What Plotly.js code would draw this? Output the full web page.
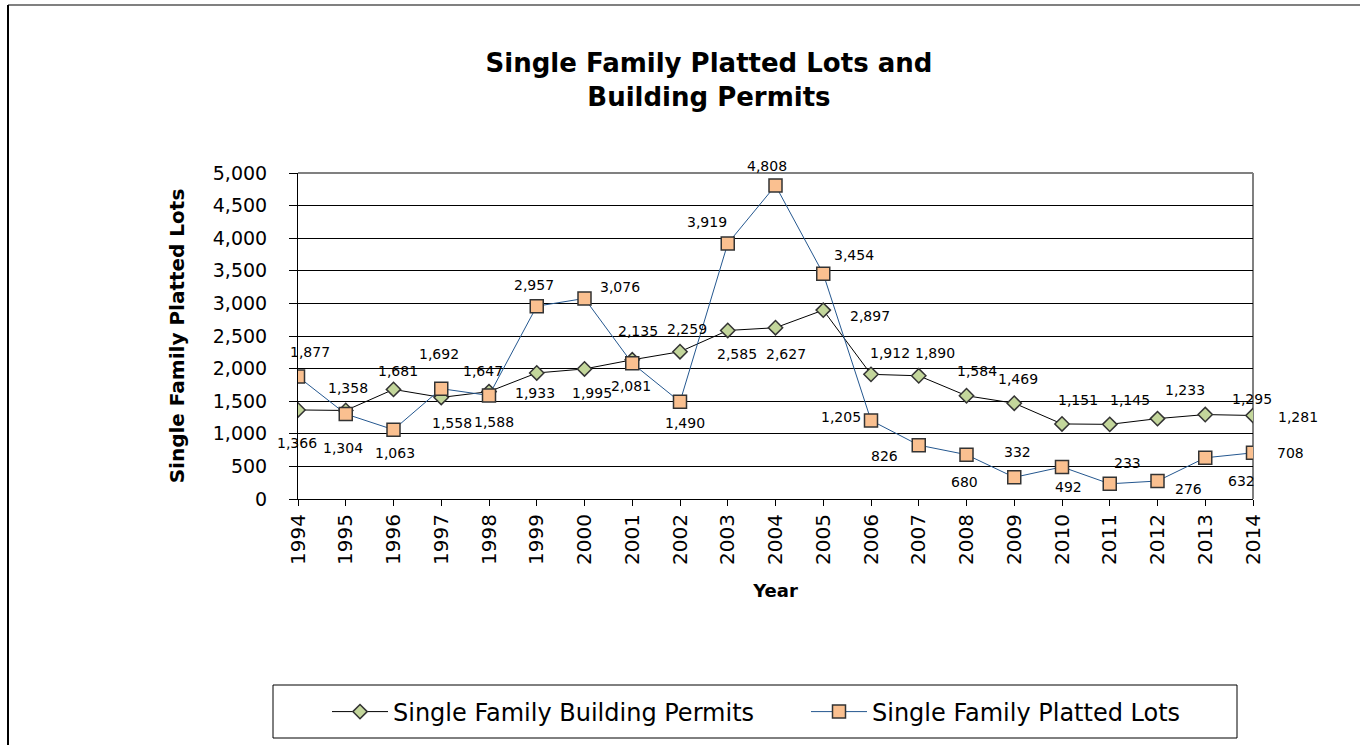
<!DOCTYPE html>
<html>
<head>
<meta charset="utf-8">
<script src="https://cdn.plot.ly/plotly-3.0.1.min.js"></script>
<style>html,body{margin:0;padding:0;background:#fff;}#chart{width:1360px;height:745px;}</style>
</head>
<body>
<div id="chart"></div>
<script>
// ---- data ----
var years = [1994,1995,1996,1997,1998,1999,2000,2001,2002,2003,2004,2005,2006,2007,2008,2009,2010,2011,2012,2013,2014];
var buildingPermits = [1366,1358,1681,1558,1647,1933,1995,2135,2259,2585,2627,2897,1912,1890,1584,1469,1151,1145,1233,1295,1281];
var plattedLots = [1877,1304,1063,1692,1588,2957,3076,2081,1490,3919,4808,3454,1205,826,680,332,492,233,276,632,708];
var seriesNames = ["Single Family Building Permits", "Single Family Platted Lots"];
var chartTitle = "Single Family Platted Lots and<br>Building Permits";
var xTitle = "Year";
var yTitle = "Single Family Platted Lots";

// ---- label placement (pixel offsets from each point) ----
var permitDx = [-1, 2, 4, 11, -6, -2, 7, 6, 7, 9, 10, 47, 19, 16, 10, 4, 16, 20, 27, 47, 45];
var permitDy = [-33, 22, 18, -26, 21, -20, -24, 29, 23, -24, -26, -6, 21, 23, 25, 24, 24, 24, 29, 16, -2];
var lotDx = [12, -3, 1, -2, 5, -3, 35, -1, 5, -21, -9, 31, -30, -34, -2, 3, 6, 18, 31, 36, 37];
var lotDy = [25, -34, -23, 35, -27, 21, 11, -23, -21, 21, 20, 19, 3, -11, -27, 25, -20, 21, -8, -23, 0];

var FONT = "DejaVu Sans, Arial, sans-serif";

function fmt(v){ return v.toLocaleString('en-US'); }

var traces = [
  {
    x: years, y: buildingPermits, name: seriesNames[0], type: 'scatter', mode: 'lines+markers',
    line: {color: '#000000', width: 1},
    marker: {symbol: 'diamond', size: 11, color: '#C3D69B', line: {color: '#333333', width: 1.5}},
    hoverinfo: 'x+y'
  },
  {
    x: years, y: plattedLots, name: seriesNames[1], type: 'scatter', mode: 'lines+markers',
    line: {color: '#24578F', width: 1},
    marker: {symbol: 'square', size: 13, color: '#FAC090', line: {color: '#333333', width: 1.5}},
    hoverinfo: 'x+y'
  }
];

var annotations = [];
for (var i = 0; i < years.length; i++) {
  annotations.push({x: years[i], y: buildingPermits[i], xref: 'x', yref: 'y', text: fmt(buildingPermits[i]),
    showarrow: false, xshift: permitDx[i], yshift: permitDy[i], font: {family: FONT, size: 14, color: '#000'}});
  annotations.push({x: years[i], y: plattedLots[i], xref: 'x', yref: 'y', text: fmt(plattedLots[i]),
    showarrow: false, xshift: lotDx[i], yshift: lotDy[i], font: {family: FONT, size: 14, color: '#000'}});
}

// plot area in pixels: x 298..1253, y 173..499
function px(p){ return (p - 298) / 955; }
function py(p){ return (499 - p) / 326; }

var shapes = [
  // outer frame (top + left)
  {type: 'line', xref: 'paper', yref: 'paper', x0: px(8), x1: px(1400), y0: py(5), y1: py(5), line: {color: '#808080', width: 2}},
  {type: 'line', xref: 'paper', yref: 'paper', x0: px(8), x1: px(8), y0: py(5), y1: py(800), line: {color: '#000000', width: 2}},
  // plot area border (top + right)
  {type: 'line', xref: 'paper', yref: 'paper', x0: 0, x1: 1, y0: 1, y1: 1, line: {color: '#808080', width: 2}, layer: 'below'},
  {type: 'line', xref: 'paper', yref: 'paper', x0: 1, x1: 1, y0: 0, y1: 1, line: {color: '#808080', width: 2}, layer: 'below'},
  // legend box
  {type: 'rect', xref: 'paper', yref: 'paper', x0: px(273), x1: px(1237), y0: py(685), y1: py(738), line: {color: '#000000', width: 1}}
];

var layout = {
  width: 1360, height: 745, autosize: false,
  margin: {l: 298, r: 107, t: 173, b: 246, pad: 0, autoexpand: false},
  paper_bgcolor: '#ffffff', plot_bgcolor: '#ffffff',
  font: {family: FONT, color: '#000'},
  title: {text: chartTitle, font: {family: FONT, size: 26, color: '#000', weight: 'bold'},
          xref: 'container', x: 0.5213, xanchor: 'center', yref: 'container', y: 1 - 72/745, yanchor: 'top'},
  xaxis: {
    range: [1994, 2014], tickmode: 'linear', tick0: 1994, dtick: 1, tickangle: -90,
    showgrid: false, zeroline: false, showline: true, linecolor: '#000', linewidth: 1,
    ticks: 'outside', ticklen: 6, tickcolor: '#000', tickwidth: 1,
    tickfont: {family: FONT, size: 20, color: '#000'},
    title: {text: xTitle, font: {family: FONT, size: 18, color: '#000', weight: 'bold'}, standoff: 20},
    automargin: false, fixedrange: true
  },
  yaxis: {
    range: [0, 5000], tickmode: 'linear', tick0: 0, dtick: 500, tickformat: ',d',
    showgrid: true, gridcolor: '#000', gridwidth: 1, zeroline: false,
    showline: true, linecolor: '#000', linewidth: 1,
    ticks: 'outside', ticklen: 8, tickcolor: '#000', tickwidth: 1, ticklabelstandoff: 18,
    tickfont: {family: FONT, size: 19, color: '#000'},
    title: {text: yTitle, font: {family: FONT, size: 20, color: '#000', weight: 'bold'}, standoff: 22},
    automargin: false, fixedrange: true
  },
  showlegend: true,
  legend: {orientation: 'h', x: px(327), xanchor: 'left', y: py(712), yanchor: 'middle',
           font: {family: FONT, size: 24, color: '#000'}, bgcolor: 'rgba(0,0,0,0)', borderwidth: 0,
           itemwidth: 56, entrywidth: 408, entrywidthmode: 'pixels', traceorder: 'normal'},
  annotations: annotations,
  shapes: shapes,
  hovermode: false
};

Plotly.newPlot('chart', traces, layout, {displayModeBar: false, staticPlot: true});
</script>
</body>
</html>
